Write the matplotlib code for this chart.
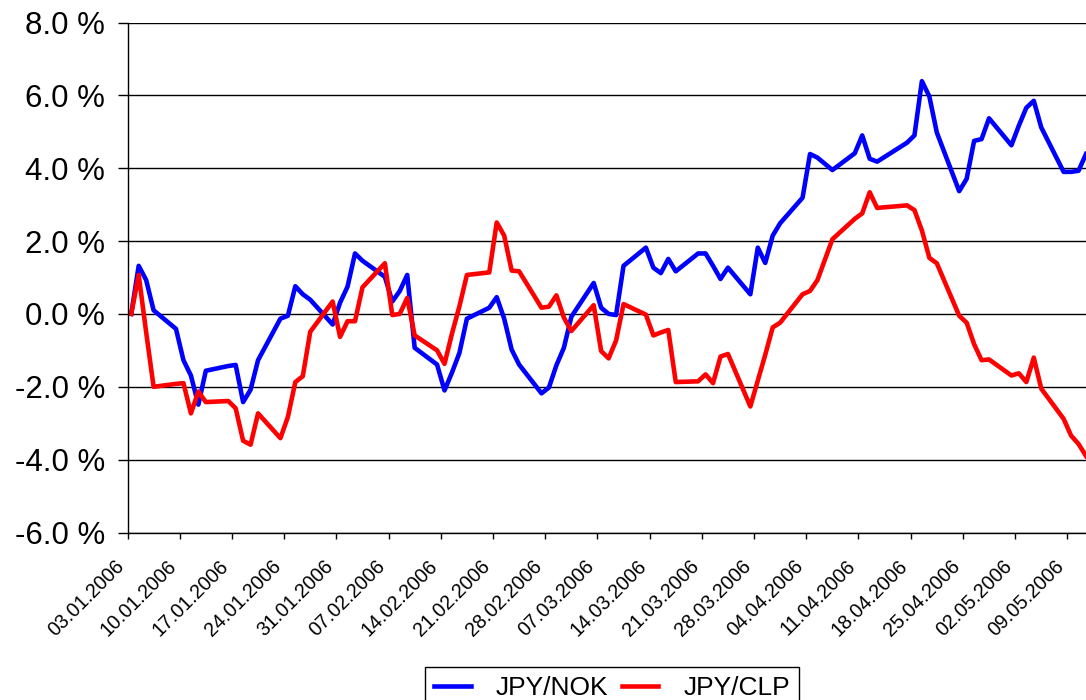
import matplotlib
matplotlib.use("Agg")
import matplotlib.pyplot as plt
import matplotlib.transforms as mtransforms
import numpy as np
import pandas as pd

plt.rcParams['font.family'] = ['Liberation Sans', 'DejaVu Sans']

# trading days (dd.mm of 2006)
days = ['03.01', '04.01', '05.01', '06.01', '09.01', '10.01', '11.01', '12.01', '13.01', '16.01',
        '17.01', '18.01', '19.01', '20.01', '23.01', '24.01', '25.01', '26.01', '27.01', '30.01', '31.01',
        '01.02', '02.02', '03.02', '06.02', '07.02', '08.02', '09.02', '10.02', '13.02', '14.02',
        '15.02', '16.02', '17.02', '20.02', '21.02', '22.02', '23.02', '24.02', '27.02', '28.02',
        '01.03', '02.03', '03.03', '06.03', '07.03', '08.03', '09.03', '10.03', '13.03', '14.03',
        '15.03', '16.03', '17.03', '20.03', '21.03', '22.03', '23.03', '24.03', '27.03', '28.03',
        '29.03', '30.03', '31.03',
        '03.04', '04.04', '05.04', '06.04', '07.04', '10.04', '11.04', '12.04', '13.04', '17.04',
        '18.04', '19.04', '20.04', '21.04', '24.04', '25.04', '26.04', '27.04', '28.04',
        '01.05', '02.05', '03.05', '04.05', '05.05', '08.05', '09.05', '10.05', '11.05']

jpy_nok = [0.00, 1.32, 0.93, 0.10, -0.41, -1.27, -1.69, -2.49, -1.56, -1.43,
           -1.40, -2.42, -2.08, -1.27, -0.13, -0.05, 0.76, 0.54, 0.39, -0.29, 0.31,
           0.75, 1.66, 1.46, 1.02, 0.34, 0.63, 1.07, -0.93, -1.39, -2.10,
           -1.61, -1.07, -0.13, 0.17, 0.46, -0.13, -0.98, -1.39, -2.18, -2.02,
           -1.41, -0.93, -0.08, 0.85, 0.17, 0.00, -0.03, 1.32, 1.82, 1.27,
           1.12, 1.51, 1.17, 1.66, 1.66, 1.32, 0.96, 1.27, 0.54, 1.82,
           1.40, 2.15, 2.49,
           3.19, 4.39, 4.29, 4.12, 3.95, 4.41, 4.90, 4.26, 4.18, 4.70,
           4.90, 6.39, 5.97, 4.98, 3.37, 3.71, 4.75, 4.80, 5.37,
           4.63, 5.17, 5.66, 5.85, 5.12, 3.90, 3.90, 3.93, 4.39]

jpy_clp = [0.00, 1.07, -0.50, -2.00, -1.92, -1.90, -2.73, -2.13, -2.42, -2.39,
           -2.59, -3.48, -3.59, -2.73, -3.41, -2.83, -1.87, -1.71, -0.49, 0.34, -0.63,
           -0.20, -0.20, 0.73, 1.39, -0.03, 0.00, 0.44, -0.59, -1.00, -1.37,
           -0.54, 0.21, 1.07, 1.14, 2.51, 2.15, 1.19, 1.17, 0.17, 0.20,
           0.51, -0.10, -0.47, 0.24, -1.02, -1.22, -0.73, 0.27, -0.02, -0.59,
           -0.51, -0.44, -1.87, -1.85, -1.66, -1.90, -1.17, -1.10, -2.54, -1.83,
           -1.12, -0.37, -0.24,
           0.54, 0.63, 0.93, 1.49, 2.05, 2.61, 2.76, 3.34, 2.91, 2.98,
           2.85, 2.29, 1.54, 1.39, -0.05, -0.24, -0.83, -1.27, -1.25,
           -1.69, -1.63, -1.87, -1.20, -2.05, -2.88, -3.34, -3.57, -3.90]

tick_dates = pd.date_range('2006-01-03', '2006-05-09', freq='7D')
y_ticks = np.arange(-6, 9, 2)

x = pd.to_datetime([d + '.2006' for d in days], format='%d.%m.%Y') + pd.Timedelta(hours=12)

W, H = 1086, 700
fig = plt.figure(figsize=(W / 100, H / 100), dpi=100)
ax = fig.add_axes([127.5 / W, 167.5 / H, (W - 127.5) / W, 510 / H])

ax.plot(x, jpy_nok, color='#0000ff', lw=3.3, label='JPY/NOK')
ax.plot(x, jpy_clp, color='#ff0000', lw=3.3, label='JPY/CLP')

ax.set_xlim(pd.Timestamp('2006-01-03'), pd.Timestamp('2006-05-11 12:00'))
ax.set_ylim(-6, 8)
ax.set_yticks(y_ticks)
ax.set_yticklabels([f'{v:.1f} %' for v in y_ticks], fontsize=22.5)
ax.yaxis.grid(True, color='black', lw=1.0)
ax.set_axisbelow(True)

# date labels placed by hand under each tick, rotated 45 degrees
ax.set_xticks(tick_dates)
ax.set_xticklabels([])
ax.tick_params(axis='x', length=4.5, width=1, color='black')
ax.tick_params(axis='y', length=7, width=1, pad=9, color='black')
lab_tr = mtransforms.blended_transform_factory(ax.transData, ax.transAxes) + \
    mtransforms.ScaledTranslation(-13 / 100, -23.8 / 100, fig.dpi_scale_trans)
for d in tick_dates:
    ax.text(d, 0, d.strftime('%d.%m.%Y'), transform=lab_tr, fontsize=14.2,
            rotation=45, ha='right', va='top', rotation_mode='anchor', clip_on=False)

for s in ['top', 'right']:
    ax.spines[s].set_visible(False)
for s in ['left', 'bottom']:
    ax.spines[s].set_color('black')
    ax.spines[s].set_linewidth(1.0)

leg = fig.legend(loc='upper center', bbox_to_anchor=(612 / W, 1 - 667 / H), ncol=2,
                 frameon=True, fancybox=False, edgecolor='black', framealpha=1,
                 fontsize=19, handlelength=1.4, handletextpad=0.95, columnspacing=0.5,
                 borderpad=0.35, borderaxespad=0)
leg.get_frame().set_linewidth(1.0)

fig.savefig('out.png', dpi=100)
